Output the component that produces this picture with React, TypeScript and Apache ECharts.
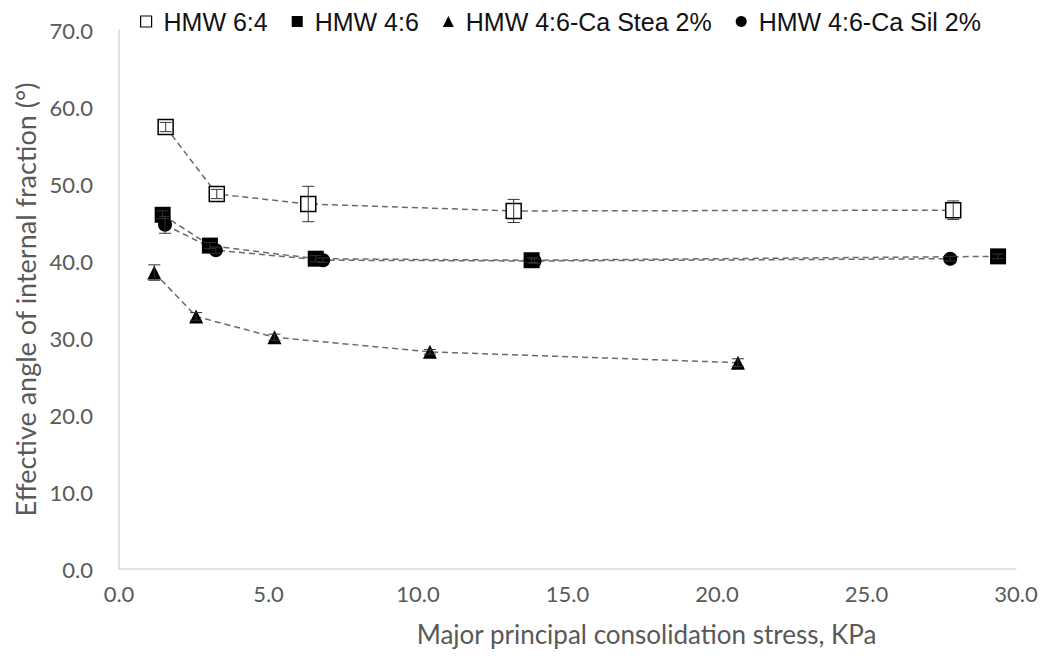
import React, { useEffect, useRef } from "react";
import * as echarts from "echarts";

const names = ["HMW 6:4", "HMW 4:6", "HMW 4:6-Ca Stea 2%", "HMW 4:6-Ca Sil 2%"];

const xOpen = [1.56, 3.27, 6.33, 13.2, 27.9];
const yOpen = [57.4, 48.7, 47.4, 46.5, 46.6];
const eOpen = [0.6, 0.6, 2.3, 1.5, 1.2];

const xSq = [1.46, 3.04, 6.58, 13.8, 29.4];
const ySq = [46.0, 42.0, 40.3, 40.1, 40.6];
const eSq = [0.5, 0.4, 0.4, 0.3, 0.3];

const xTri = [1.18, 2.58, 5.2, 10.4, 20.7];
const yTri = [38.5, 32.8, 30.1, 28.2, 26.8];
const eTri = [1.0, 0.5, 0.4, 0.3, 0.5];

const xCir = [1.54, 3.24, 6.83, 13.9, 27.8];
const yCir = [44.7, 41.4, 40.1, 40.0, 40.3];
const eCir = [1.1, 0.4, 0.3, 0.3, 0.3];

const xTicks = [0, 5, 10, 15, 20, 25, 30];
const yTicks = [0, 10, 20, 30, 40, 50, 60, 70];

const pts = (xs: number[], ys: number[]) => xs.map((x, i) => [x, ys[i]]);
const errs = (xs: number[], ys: number[], es: number[]) => xs.map((x, i) => [x, ys[i], es[i]]);

const labelFont = "Lato, 'Liberation Sans', Arial, sans-serif";

export default function App() {
  const ref = useRef<HTMLDivElement>(null);
  useEffect(() => {
    if (!ref.current) return;
    const chart = echarts.init(ref.current, null, { renderer: "svg" });
    const lineBase = (name: string, data: number[][], symbol: string, size: number, fill: string) => ({
      name,
      type: "line",
      data,
      symbol,
      symbolSize: size,
      showAllSymbol: true,
      z: 3,
      lineStyle: { color: "#6a6a6a", width: 1.5, type: [6, 4] },
      itemStyle: { color: fill, borderColor: "#000", borderWidth: fill === "#fff" ? 1.5 : 0 },
      emphasis: { disabled: true },
    });
    const errSeries = (data: number[][]) => ({
      type: "custom",
      data,
      z: 4,
      silent: true,
      renderItem: (params: any, api: any) => {
        const x = api.value(0), y = api.value(1), e = api.value(2);
        const top = api.coord([x, y + e]);
        const bot = api.coord([x, y - e]);
        const w = 6;
        const style = { stroke: "#333", lineWidth: 1 };
        return {
          type: "group",
          children: [
            { type: "line", shape: { x1: top[0], y1: top[1], x2: bot[0], y2: bot[1] }, style },
            { type: "line", shape: { x1: top[0] - w, y1: top[1], x2: top[0] + w, y2: top[1] }, style },
            { type: "line", shape: { x1: bot[0] - w, y1: bot[1], x2: bot[0] + w, y2: bot[1] }, style },
          ],
        };
      },
    });
    chart.setOption({
      animation: false,
      backgroundColor: "#fff",
      legend: {
        top: 4,
        left: 135,
        itemWidth: 11,
        itemHeight: 11,
        itemGap: 24,
        formatter: (n: string) => " " + n,
        textStyle: { fontSize: 25, color: "#111", fontFamily: "'Liberation Sans', Arial, sans-serif" },
        data: [
          { name: names[0], icon: "rect", itemStyle: { color: "#fff", borderColor: "#000", borderWidth: 1.2 } },
          { name: names[1], icon: "rect", itemStyle: { color: "#000" } },
          { name: names[2], icon: "triangle", itemStyle: { color: "#000" } },
          { name: names[3], icon: "circle", itemStyle: { color: "#000" } },
        ],
      },
      grid: { left: 119, right: 25, top: 30, bottom: 87 },
      xAxis: {
        type: "value",
        min: 0,
        max: 30,
        interval: 5,
        name: "Major principal consolidation stress, KPa",
        nameLocation: "middle",
        nameGap: 52,
        nameTextStyle: { fontSize: 26, color: "#595959", fontFamily: labelFont, padding: [0, 0, 0, 158] },
        axisLine: { show: true, lineStyle: { color: "#d9d9d9", width: 1.5 } },
        axisTick: { show: false },
        splitLine: { show: false },
        axisLabel: {
          fontSize: 22,
          color: "#595959",
          fontFamily: labelFont,
          margin: 13,
          formatter: (v: number) => (xTicks.includes(v) ? v.toFixed(1) : ""),
        },
      },
      yAxis: {
        type: "value",
        min: 0,
        max: 70,
        interval: 10,
        name: "Effective angle of internal fraction (°)",
        nameLocation: "middle",
        nameGap: 79,
        nameRotate: 90,
        nameTextStyle: { fontSize: 27, color: "#595959", fontFamily: labelFont },
        axisLine: { show: true, lineStyle: { color: "#d9d9d9", width: 1.5 } },
        axisTick: { show: false },
        splitLine: { show: false },
        axisLabel: {
          fontSize: 22,
          color: "#595959",
          fontFamily: labelFont,
          margin: 26,
          formatter: (v: number) => (yTicks.includes(v) ? v.toFixed(1) : ""),
        },
      },
      series: [
        lineBase(names[0], pts(xOpen, yOpen), "rect", 15, "#fff"),
        lineBase(names[1], pts(xSq, ySq), "rect", 16, "#000"),
        lineBase(names[2], pts(xTri, yTri), "triangle", 14, "#000"),
        lineBase(names[3], pts(xCir, yCir), "circle", 14, "#000"),
        errSeries(errs(xOpen, yOpen, eOpen)),
        errSeries(errs(xSq, ySq, eSq)),
        errSeries(errs(xTri, yTri, eTri)),
        errSeries(errs(xCir, yCir, eCir)),
      ],
    });
    return () => chart.dispose();
  }, []);
  return (
    <div
      ref={ref}
      style={{ position: "fixed", left: 0, top: 0, width: 1041, height: 656 }}
    />
  );
}
